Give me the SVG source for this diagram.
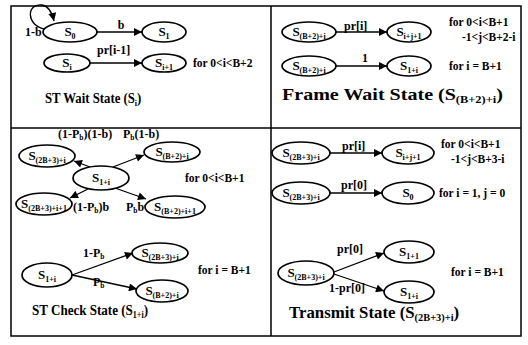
<svg xmlns="http://www.w3.org/2000/svg" width="528" height="345" viewBox="0 0 528 345">
<defs>
<marker id="ah" viewBox="0 0 10 10" refX="10" refY="5" markerWidth="10" markerHeight="8" markerUnits="userSpaceOnUse" orient="auto">
<path d="M0,0 L10,5 L0,10 z" fill="#000"/>
</marker>
<style>
.frame{fill:none;stroke:#000;stroke-width:1.5}
.node ellipse{fill:#fff;stroke:#000;stroke-width:1.7}
.node text{font-family:"Liberation Serif",serif;font-weight:bold;font-size:13px}
.sub{font-size:8px}
.edge{fill:none;stroke:#000;stroke-width:1.3;marker-end:url(#ah)}
.lbl{font-family:"Liberation Serif",serif;font-weight:bold;font-size:12px}
.cond{font-family:"Liberation Serif",serif;font-weight:bold;font-size:11.5px}
.lsub{font-size:7.5px}
.title{font-family:"Liberation Serif",serif;font-weight:bold;font-size:16px}
.tsub{font-size:0.62em}
</style>
</defs>
<rect id="frame" class="frame" x="11" y="6" width="510" height="330"/>
<line class="frame" x1="11" y1="128" x2="521" y2="128"/>
<line class="frame" x1="271" y1="6" x2="271" y2="336"/>

<g id="connectors">
<path class="edge" d="M45,29 C26,26 26,3 42,5 C48,6 52,12 54,21"/>
<line class="edge" x1="97" y1="32" x2="142" y2="32"/>
<line class="edge" x1="90" y1="63" x2="142" y2="63"/>
<line class="edge" x1="336" y1="32" x2="387" y2="32"/>
<line class="edge" x1="336" y1="66" x2="387" y2="66"/>
<line class="edge" x1="90" y1="167" x2="74" y2="161"/>
<line class="edge" x1="113" y1="167" x2="144" y2="155"/>
<line class="edge" x1="88" y1="189" x2="70" y2="198"/>
<line class="edge" x1="115" y1="188" x2="146" y2="199"/>
<line class="edge" x1="72" y1="275" x2="133" y2="253"/>
<line class="edge" x1="72" y1="275" x2="137" y2="289"/>
<line class="edge" x1="330" y1="153" x2="382" y2="153"/>
<line class="edge" x1="330" y1="193" x2="382" y2="193"/>
<line class="edge" x1="334" y1="272" x2="384" y2="253"/>
<line class="edge" x1="334" y1="274" x2="384" y2="291"/>
</g>

<g id="n-wait-s0" class="node"><ellipse cx="70" cy="32" rx="27" ry="10"/><text x="70" y="36" text-anchor="middle">S<tspan class="sub" dy="3">0</tspan></text></g>
<g id="n-wait-s1" class="node"><ellipse cx="164" cy="32" rx="22" ry="10"/><text x="164" y="36" text-anchor="middle">S<tspan class="sub" dy="3">1</tspan></text></g>
<g id="n-wait-si" class="node"><ellipse cx="67" cy="63" rx="23" ry="9"/><text x="67" y="67" text-anchor="middle">S<tspan class="sub" dy="3">i</tspan></text></g>
<g id="n-wait-si1" class="node"><ellipse cx="164" cy="63" rx="22" ry="9"/><text x="164" y="67" text-anchor="middle">S<tspan class="sub" dy="3">i+1</tspan></text></g>

<g id="n-fw-a" class="node"><ellipse cx="309" cy="32" rx="27" ry="10"/><text x="309" y="36" text-anchor="middle">S<tspan class="sub" dy="3">(B+2)+i</tspan></text></g>
<g id="n-fw-b" class="node"><ellipse cx="409" cy="32" rx="22" ry="10"/><text x="409" y="36" text-anchor="middle">S<tspan class="sub" dy="3">i+j+1</tspan></text></g>
<g id="n-fw-c" class="node"><ellipse cx="309" cy="66" rx="27" ry="10"/><text x="309" y="70" text-anchor="middle">S<tspan class="sub" dy="3">(B+2)+i</tspan></text></g>
<g id="n-fw-d" class="node"><ellipse cx="409" cy="66" rx="22" ry="10"/><text x="409" y="70" text-anchor="middle">S<tspan class="sub" dy="3">1+i</tspan></text></g>

<g id="n-ck-ul" class="node"><ellipse cx="47" cy="156" rx="28" ry="11"/><text x="47" y="160" text-anchor="middle">S<tspan class="sub" dy="3">(2B+3)+i</tspan></text></g>
<g id="n-ck-ur" class="node"><ellipse cx="172" cy="152" rx="28" ry="10"/><text x="172" y="156" text-anchor="middle">S<tspan class="sub" dy="3">(B+2)+i</tspan></text></g>
<g id="n-ck-c" class="node"><ellipse cx="101" cy="178" rx="28" ry="12"/><text x="101" y="182" text-anchor="middle">S<tspan class="sub" dy="3">1+i</tspan></text></g>
<g id="n-ck-ll" class="node"><ellipse cx="44" cy="204" rx="28" ry="11"/><text x="44" y="208" text-anchor="middle">S<tspan class="sub" dy="3">(2B+3)+i+1</tspan></text></g>
<g id="n-ck-lr" class="node"><ellipse cx="175" cy="207" rx="30" ry="11"/><text x="175" y="211" text-anchor="middle">S<tspan class="sub" dy="3">(B+2)+i+1</tspan></text></g>

<g id="n-ck2-a" class="node"><ellipse cx="47" cy="275" rx="25" ry="12"/><text x="47" y="279" text-anchor="middle">S<tspan class="sub" dy="3">1+i</tspan></text></g>
<g id="n-ck2-b" class="node"><ellipse cx="160" cy="253" rx="28" ry="10"/><text x="160" y="257" text-anchor="middle">S<tspan class="sub" dy="3">(2B+3)+i</tspan></text></g>
<g id="n-ck2-c" class="node"><ellipse cx="162" cy="291" rx="26" ry="11"/><text x="162" y="295" text-anchor="middle">S<tspan class="sub" dy="3">(B+2)+i</tspan></text></g>

<g id="n-tx-a" class="node"><ellipse cx="301" cy="153" rx="29" ry="11"/><text x="301" y="157" text-anchor="middle">S<tspan class="sub" dy="3">(2B+3)+i</tspan></text></g>
<g id="n-tx-b" class="node"><ellipse cx="408" cy="153" rx="26" ry="11"/><text x="408" y="157" text-anchor="middle">S<tspan class="sub" dy="3">i+j+1</tspan></text></g>
<g id="n-tx-c" class="node"><ellipse cx="301" cy="193" rx="29" ry="11"/><text x="301" y="197" text-anchor="middle">S<tspan class="sub" dy="3">(2B+3)+i</tspan></text></g>
<g id="n-tx-d" class="node"><ellipse cx="408" cy="193" rx="26" ry="11"/><text x="408" y="197" text-anchor="middle">S<tspan class="sub" dy="3">0</tspan></text></g>
<g id="n-tx-e" class="node"><ellipse cx="306" cy="273" rx="28" ry="12"/><text x="306" y="277" text-anchor="middle">S<tspan class="sub" dy="3">(2B+3)+i</tspan></text></g>
<g id="n-tx-f" class="node"><ellipse cx="409" cy="252" rx="25" ry="11"/><text x="409" y="256" text-anchor="middle">S<tspan class="sub" dy="3">1+1</tspan></text></g>
<g id="n-tx-g" class="node"><ellipse cx="409" cy="292" rx="25" ry="11"/><text x="409" y="296" text-anchor="middle">S<tspan class="sub" dy="3">1+i</tspan></text></g>

<g id="edge-labels" class="lbl">
<text x="25" y="36">1-b</text>
<text x="121" y="29" text-anchor="middle">b</text>
<text x="97" y="54">pr[i-1]</text>
<text x="344" y="30">pr[i]</text>
<text x="362" y="62">1</text>
<text x="58" y="138">(1-P<tspan class="lsub" dy="2">b</tspan><tspan dy="-2">)(1-b)</tspan></text>
<text x="123" y="138">P<tspan class="lsub" dy="2">b</tspan><tspan dy="-2">(1-b)</tspan></text>
<text x="73" y="211">(1-P<tspan class="lsub" dy="2">b</tspan><tspan dy="-2">)b</tspan></text>
<text x="126" y="211">P<tspan class="lsub" dy="2">b</tspan><tspan dy="-2">b</tspan></text>
<text x="83" y="257">1-P<tspan class="lsub" dy="2">b</tspan></text>
<text x="93" y="286">P<tspan class="lsub" dy="2">b</tspan></text>
<text x="342" y="150">pr[i]</text>
<text x="341" y="189">pr[0]</text>
<text x="337" y="253">pr[0]</text>
<text x="329" y="292">1-pr[0]</text>
</g>

<g id="conditions" class="cond">
<text x="193" y="67">for 0&lt;i&lt;B+2</text>
<text x="449" y="26">for 0&lt;i&lt;B+1</text>
<text x="462" y="41">-1&lt;j&lt;B+2-i</text>
<text x="449" y="70">for  i = B+1</text>
<text x="185" y="182">for 0&lt;i&lt;B+1</text>
<text x="198" y="274">for  i = B+1</text>
<text x="441" y="148">for 0&lt;i&lt;B+1</text>
<text x="451" y="163">-1&lt;j&lt;B+3-i</text>
<text x="439" y="197">for  i = 1, j = 0</text>
<text x="451" y="276">for  i = B+1</text>
</g>

<g id="titles" class="title">
<text transform="translate(45,103) scale(0.88,1)" style="font-size:14.5px">ST Wait State (S<tspan class="tsub" dy="3">i</tspan><tspan dy="-3">)</tspan></text>
<text transform="translate(282,100) scale(1.18,1)" style="font-size:17px">Frame Wait State (S<tspan class="tsub" dy="3">(B+2)+i</tspan><tspan dy="-3">)</tspan></text>
<text transform="translate(32,315) scale(0.87,1)" style="font-size:15px">ST Check State (S<tspan class="tsub" dy="3">1+i</tspan><tspan dy="-3">)</tspan></text>
<text transform="translate(289,318) scale(1.05,1)" style="font-size:16px">Transmit State (S<tspan class="tsub" dy="3">(2B+3)+i</tspan><tspan dy="-3">)</tspan></text>
</g>
</svg>
